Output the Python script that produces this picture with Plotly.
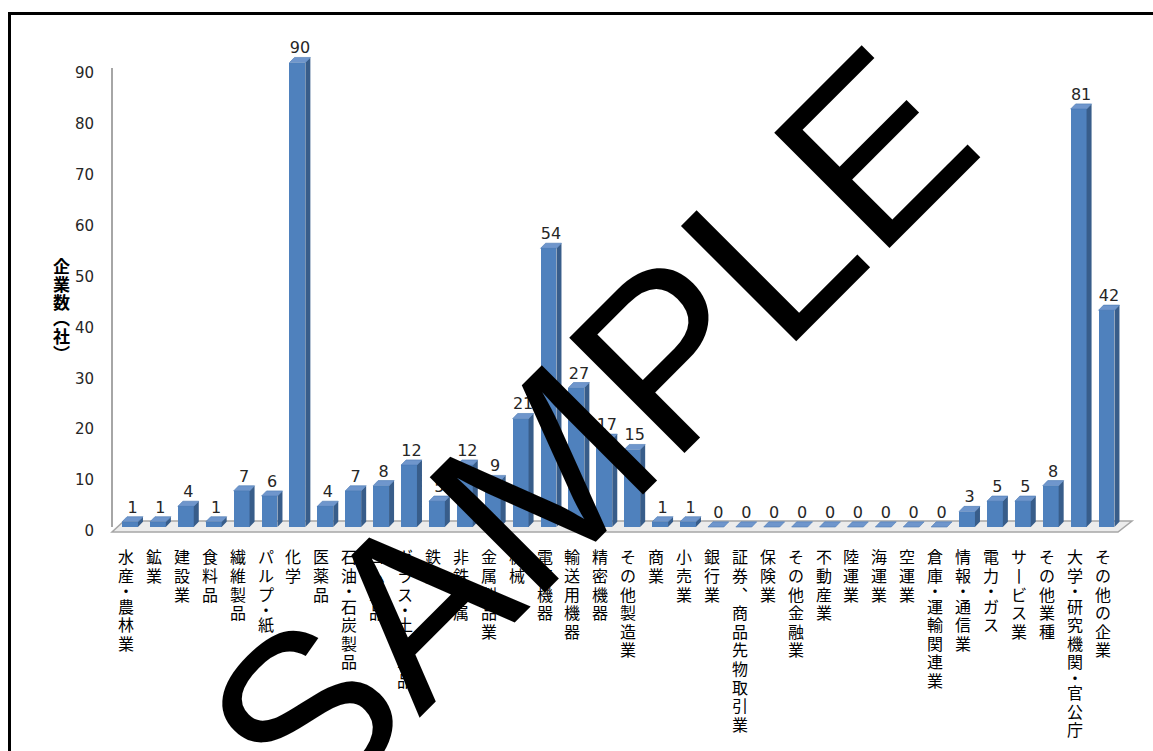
import plotly.graph_objects as go

# ---- data -------------------------------------------------------------
categories = [
    "水産・農林業", "鉱業", "建設業", "食料品", "繊維製品", "パルプ・紙", "化学", "医薬品",
    "石油・石炭製品", "ゴム製品", "ガラス・土石製品", "鉄鋼", "非鉄金属", "金属製品業", "機械",
    "電気機器", "輸送用機器", "精密機器", "その他製造業", "商業", "小売業", "銀行業",
    "証券、商品先物取引業", "保険業", "その他金融業", "不動産業", "陸運業", "海運業", "空運業",
    "倉庫・運輸関連業", "情報・通信業", "電力・ガス", "サービス業", "その他業種",
    "大学・研究機関・官公庁", "その他の企業",
]
counts = [1, 1, 4, 1, 7, 6, 90, 4, 7, 8, 12, 5, 12, 9, 21, 54, 27, 17, 15, 1, 1,
          0, 0, 0, 0, 0, 0, 0, 0, 0, 3, 5, 5, 8, 81, 42]
y_ticks = [0, 10, 20, 30, 40, 50, 60, 70, 80, 90]
y_title = "企業数（社）"
watermark = "SAMPLE"

# ---- geometry (pixels) ------------------------------------------------
W, H = 1153, 751
PL, PR = 112, 1125          # plot area left/right
PT, PB = 30, 532            # plot area top/bottom
PX_PER_UNIT = 5.16          # bar scale
BASE_PX = 527               # value 0 of the bars
TICK_PX_PER_UNIT = 5.09     # scale of the wall tick labels
TICK_BASE_PX = 531
X_LO = -0.645
X_HI = X_LO + (PR - PL) / 27.9

y_lo = -(PB - BASE_PX) / PX_PER_UNIT
y_hi = (BASE_PX - PT) / PX_PER_UNIT

FRONT = 0.57                # front face width (category units)
DX = 0.18                   # depth offset, x
DY = 1.0                    # depth offset, y (value units)

FRONT_C = "#4f81bd"
SIDE_C = "#385d8a"
TOP_C = "#6f96cc"

xs = list(range(len(categories)))

# side faces and top faces as filled polygons
side_x, side_y, top_x, top_y = [], [], [], []
for i, v in zip(xs, counts):
    r = i + FRONT / 2
    l = i - FRONT / 2
    side_x += [r, r + DX, r + DX, r, r, None]
    side_y += [0, DY, v + DY, v, 0, None]
    top_x += [l, r, r + DX, l + DX, l, None]
    top_y += [v, v, v + DY, v + DY, v, None]

fig = go.Figure()
fig.add_trace(go.Bar(x=xs, y=counts, width=FRONT, marker=dict(color=FRONT_C, line=dict(width=0)),
                     hoverinfo="skip", showlegend=False))
fig.add_trace(go.Scatter(x=side_x, y=side_y, mode="lines", fill="toself", fillcolor=SIDE_C,
                         line=dict(width=0, color=SIDE_C), hoverinfo="skip", showlegend=False))
fig.add_trace(go.Scatter(x=top_x, y=top_y, mode="lines", fill="toself", fillcolor=TOP_C,
                         line=dict(width=0.6, color="#4a78b4"), hoverinfo="skip", showlegend=False))
# value labels
fig.add_trace(go.Scatter(x=[i + DX / 2 for i in xs], y=[v + DY for v in counts], mode="text",
                         text=[str(v) for v in counts], textposition="top center",
                         textfont=dict(family="DejaVu Sans", size=16, color="#262626"),
                         hoverinfo="skip", showlegend=False))

def px_x(p):
    return (p - PL) / (PR - PL)

def px_y(p):
    return (PB - p) / (PB - PT)

shapes = []
# floor slab
shapes.append(dict(type="path", xref="paper", yref="paper", layer="below",
                   path=f"M {px_x(112)} {px_y(532)} L {px_x(1118)} {px_y(532)} "
                        f"L {px_x(1132)} {px_y(521)} L {px_x(124)} {px_y(521)} Z",
                   fillcolor="#ececec", line=dict(color="#a6a6a6", width=1.5)))
# back wall edge
shapes.append(dict(type="line", xref="paper", yref="paper", layer="below",
                   x0=px_x(112), x1=px_x(112), y0=px_y(527), y1=px_y(68),
                   line=dict(color="#a6a6a6", width=2)))
# outer frame
shapes.append(dict(type="rect", xref="paper", yref="paper",
                   x0=px_x(9.5), x1=px_x(1170), y0=px_y(13.5), y1=px_y(770),
                   line=dict(color="black", width=3), fillcolor="rgba(0,0,0,0)"))

vertical_forms = {"ー": "丨", "、": "︑", "（": "︵", "）": "︶"}

annotations = []
# vertical category labels, one glyph per annotation
for i, name in enumerate(categories):
    off = 15
    for ch in name:
        pitch = 12 if ch == "・" else 18.6
        annotations.append(dict(
            x=i, xref="x", y=0, yref="paper", yanchor="middle", xanchor="center",
            yshift=-(off + pitch / 2), xshift=-4, showarrow=False,
            text=vertical_forms.get(ch, ch),
            font=dict(family="Noto Sans CJK JP", size=16, color="black")))
        off += pitch

# vertical axis title
off = 256
for ch in y_title:
    pitch = 16 if ch in "（）" else 18
    annotations.append(dict(
        x=px_x(61), xref="paper", y=px_y(off + pitch / 2), yref="paper",
        xanchor="center", yanchor="middle", showarrow=False,
        text="<b>" + vertical_forms.get(ch, ch) + "</b>",
        font=dict(family="Noto Sans CJK JP", size=17, color="black")))
    off += pitch

# watermark
annotations.append(dict(
    x=px_x(589), y=px_y(431), xref="paper", yref="paper", xanchor="center", yanchor="middle",
    text=watermark, textangle=-45, showarrow=False,
    font=dict(family="Liberation Sans", size=237, color="black")))

fig.update_layout(
    width=W, height=H,
    margin=dict(l=PL, r=W - PR, t=PT, b=H - PB, pad=0),
    paper_bgcolor="white", plot_bgcolor="white",
    xaxis=dict(range=[X_LO, X_HI], showticklabels=False, showgrid=False, zeroline=False,
               showline=False, ticks=""),
    yaxis=dict(range=[y_lo, y_hi], showticklabels=False, showgrid=False, zeroline=False,
               showline=False, ticks=""),
    yaxis2=dict(overlaying="y", side="left",
                range=[-(PB - TICK_BASE_PX) / TICK_PX_PER_UNIT, (TICK_BASE_PX - PT) / TICK_PX_PER_UNIT],
                tickvals=y_ticks, ticktext=[str(t) for t in y_ticks], showgrid=False,
                zeroline=False, showline=False, ticks="", ticklabelstandoff=17,
                tickfont=dict(family="DejaVu Sans", size=15, color="#262626")),
    shapes=shapes,
    annotations=annotations,
    bargap=0,
)
# invisible trace so that the tick axis is laid out
fig.add_trace(go.Scatter(x=[None], y=[None], yaxis="y2", showlegend=False, hoverinfo="skip"))

fig.write_html("out.html")
